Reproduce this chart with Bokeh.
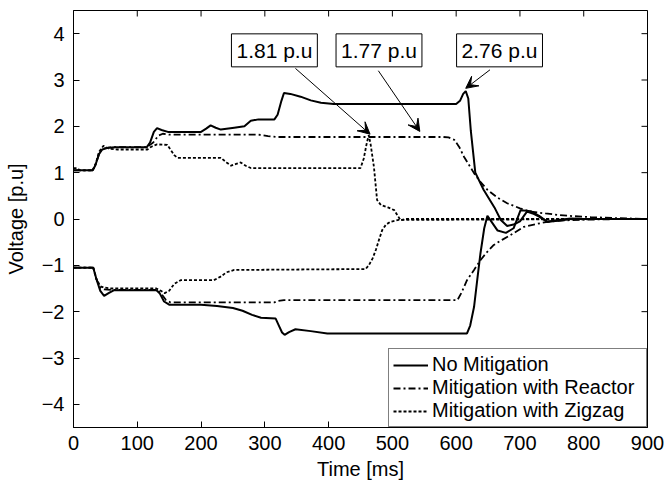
import math
from bokeh.plotting import figure
from bokeh.models import Range1d, FixedTicker, Label, Arrow, VeeHead
from bokeh.embed import file_html
from bokeh.resources import INLINE

# ---------------- data ----------------
x_ticks = [0, 100, 200, 300, 400, 500, 600, 700, 800, 900]
y_ticks = [-4, -3, -2, -1, 0, 1, 2, 3, 4]
x_lim = [0, 900]
y_lim = [-4.5, 4.5]

series_names = ["No Mitigation", "Mitigation with Reactor", "Mitigation with Zigzag"]

# No mitigation (solid)
t_none_up = [0, 30, 34, 40, 45, 55, 65, 115, 120, 126, 131, 138, 148, 200, 208, 215, 223, 231, 252, 268,
             278, 290, 315, 320, 326, 330, 340, 356, 372, 388, 408, 600, 606, 611, 615, 619, 623, 630,
             643, 660, 670, 680, 690, 700, 711, 720, 730, 743, 760, 780, 800, 900]
v_none_up = [1.05, 1.05, 1.15, 1.4, 1.5, 1.54, 1.55, 1.55, 1.65, 1.88, 1.96, 1.92, 1.88, 1.88, 1.95, 2.02,
             1.97, 1.93, 1.97, 2.0, 2.12, 2.15, 2.15, 2.25, 2.55, 2.72, 2.70, 2.64, 2.56, 2.51, 2.48, 2.48,
             2.55, 2.70, 2.76, 2.6, 1.9, 1.0, 0.63, 0.25, -0.02, -0.15, -0.12, -0.05, 0.16, 0.12, 0.05,
             -0.06, -0.02, 0.01, 0.0, 0.0]
t_none_lo = [0, 31, 36, 42, 48, 55, 63, 130, 135, 142, 150, 200, 225, 250, 265, 280, 294, 317, 322, 327,
             331, 338, 348, 372, 398, 617, 622, 628, 633, 638, 644, 649, 655, 665, 678, 690, 701, 717,
             730, 743, 760, 780, 900]
v_none_lo = [-1.05, -1.05, -1.3, -1.55, -1.66, -1.6, -1.54, -1.54, -1.6, -1.78, -1.85, -1.85, -1.88,
             -1.92, -1.98, -2.07, -2.13, -2.15, -2.3, -2.45, -2.5, -2.44, -2.38, -2.42, -2.47, -2.47,
             -2.3, -1.9, -1.32, -0.75, -0.2, 0.07, -0.05, -0.25, -0.30, -0.2, 0.19, 0.17, 0.07, -0.06,
             -0.04, 0.0, 0.0]

# Mitigation with reactor (dash-dot)
t_reac_up = [0, 30, 34, 40, 45, 55, 65, 115, 125, 133, 140, 150, 290, 305, 320, 340, 580, 588, 597, 605,
             612, 620, 628, 638, 649, 665, 680, 700, 717, 740, 759, 785, 811, 850, 900]
v_reac_up = [1.05, 1.05, 1.15, 1.4, 1.52, 1.54, 1.55, 1.55, 1.65, 1.8, 1.84, 1.82, 1.82, 1.79, 1.77,
             1.77, 1.77, 1.76, 1.71, 1.55, 1.35, 1.17, 0.99, 0.8, 0.63, 0.46, 0.34, 0.23, 0.16, 0.12,
             0.09, 0.06, 0.04, 0.02, 0.0]
t_reac_lo = [0, 31, 36, 42, 48, 60, 130, 137, 145, 152, 315, 320, 330, 602, 608, 617, 628, 638, 648, 659,
             672, 685, 706, 725, 743, 770, 800, 840, 900]
v_reac_lo = [-1.05, -1.05, -1.3, -1.48, -1.52, -1.53, -1.53, -1.6, -1.75, -1.8, -1.8, -1.77, -1.75,
             -1.75, -1.6, -1.32, -1.1, -0.89, -0.72, -0.56, -0.45, -0.35, -0.17, -0.11, -0.06, -0.03,
             -0.015, -0.005, 0.0]

# Mitigation with zigzag (dotted)
t_zig_up = [0, 5, 10, 30, 35, 40, 47, 55, 69, 116, 122, 131, 147, 152, 158, 163, 231, 240, 247, 255, 262,
            270, 278, 450, 455, 460, 463, 466, 471, 476, 482, 493, 503, 508, 513, 520, 900]
v_zig_up = [1.1, 1.1, 1.05, 1.05, 1.2, 1.45, 1.58, 1.52, 1.5, 1.5, 1.56, 1.61, 1.6, 1.5, 1.38, 1.32,
            1.32, 1.22, 1.15, 1.19, 1.22, 1.15, 1.1, 1.1, 1.3, 1.65, 1.81, 1.6, 1.13, 0.41, 0.30, 0.25,
            0.19, 0.08, -0.03, 0.0, 0.0]
t_zig_lo = [0, 31, 36, 42, 48, 60, 130, 137, 143, 150, 158, 168, 220, 230, 240, 252, 458, 463, 469, 474,
            479, 484, 490, 497, 510, 900]
v_zig_lo = [-1.05, -1.05, -1.3, -1.45, -1.48, -1.5, -1.5, -1.55, -1.6, -1.55, -1.4, -1.32, -1.32, -1.25,
            -1.15, -1.1, -1.08, -1.0, -0.85, -0.67, -0.45, -0.24, -0.12, -0.06, -0.02, 0.0]

# Peak annotations
ann_text = ["1.81 p.u", "1.77 p.u", "2.76 p.u"]
ann_x = [315, 479, 668]
ann_y = [3.64, 3.64, 3.64]
arr_x0 = [348, 478, 653]
arr_y0 = [3.25, 3.20, 3.22]
arr_x1 = [465, 543, 615]
arr_y1 = [1.83, 1.89, 2.82]

# ---------------- figure ----------------
FONT = "Liberation Sans"

p = figure(width=667, height=483, output_backend="svg", toolbar_location=None,
           x_range=Range1d(*x_lim), y_range=Range1d(*y_lim),
           min_border_left=73, min_border_right=20, min_border_top=10, min_border_bottom=56)
p.grid.visible = False
p.outline_line_color = "black"
p.outline_line_width = 1
p.background_fill_color = "white"
p.border_fill_color = "white"

for ax, ticks in ((p.xaxis[0], x_ticks), (p.yaxis[0], y_ticks)):
    ax.ticker = FixedTicker(ticks=ticks)
    ax.major_tick_in = 6
    ax.major_tick_out = 0
    ax.minor_tick_in = 0
    ax.minor_tick_out = 0
    ax.axis_line_color = "black"
    ax.major_tick_line_color = "black"
    ax.major_label_text_font = FONT
    ax.major_label_text_font_size = "20px"
    ax.major_label_text_color = "black"
    ax.axis_label_text_font = FONT
    ax.axis_label_text_font_size = "20px"
    ax.axis_label_text_font_style = "normal"
    ax.axis_label_text_color = "black"

p.xaxis[0].axis_label = "Time [ms]"
p.yaxis[0].axis_label = "Voltage [p.u]"
p.xaxis[0].major_label_standoff = 8
p.xaxis[0].axis_label_standoff = 5
p.yaxis[0].major_label_standoff = 9
p.yaxis[0].axis_label_standoff = 12

# inward ticks on the top and right edges of the box (clipped to the frame)
p.scatter(x_ticks, [y_lim[1]] * len(x_ticks), marker="dash", size=12, angle=math.pi / 2,
          line_color="black", line_width=1)
p.scatter([x_lim[1]] * len(y_ticks), y_ticks, marker="dash", size=12,
          line_color="black", line_width=1)

# lines
p.line(t_none_up, v_none_up, line_color="black", line_width=2, legend_label=series_names[0])
p.line(t_none_lo, v_none_lo, line_color="black", line_width=2)
p.line(t_reac_up, v_reac_up, line_color="black", line_width=1.8, line_dash="7 3 2 3",
       legend_label=series_names[1])
p.line(t_reac_lo, v_reac_lo, line_color="black", line_width=1.8, line_dash="7 3 2 3")
p.line(t_zig_up, v_zig_up, line_color="black", line_width=1.8, line_dash="3 2",
       legend_label=series_names[2])
p.line(t_zig_lo, v_zig_lo, line_color="black", line_width=1.8, line_dash="3 2")

# annotations
for txt, x, y in zip(ann_text, ann_x, ann_y):
    p.add_layout(Label(x=x, y=y, text=txt, text_align="center", text_baseline="middle",
                       text_font=FONT, text_font_size="21px", text_color="black",
                       border_line_color="black", border_line_width=1,
                       background_fill_color="white", padding=5))
for x0, y0, x1, y1 in zip(arr_x0, arr_y0, arr_x1, arr_y1):
    p.add_layout(Arrow(x_start=x0, y_start=y0, x_end=x1, y_end=y1, line_width=1, line_color="black",
                       end=VeeHead(size=12, line_color="black", fill_color="black", line_width=1)))

# legend
lg = p.legend[0]
lg.location = "bottom_right"
lg.margin = 0
lg.border_line_color = "black"
lg.border_line_width = 1
lg.background_fill_color = "white"
lg.background_fill_alpha = 1
lg.label_text_font = FONT
lg.label_text_font_size = "20px"
lg.label_text_color = "black"
lg.glyph_width = 35
lg.glyph_height = 20
lg.label_standoff = 4
lg.label_width = 210
lg.padding = 4
lg.spacing = 0
lg.label_height = 22

open("out.html", "w").write(file_html(p, INLINE))
